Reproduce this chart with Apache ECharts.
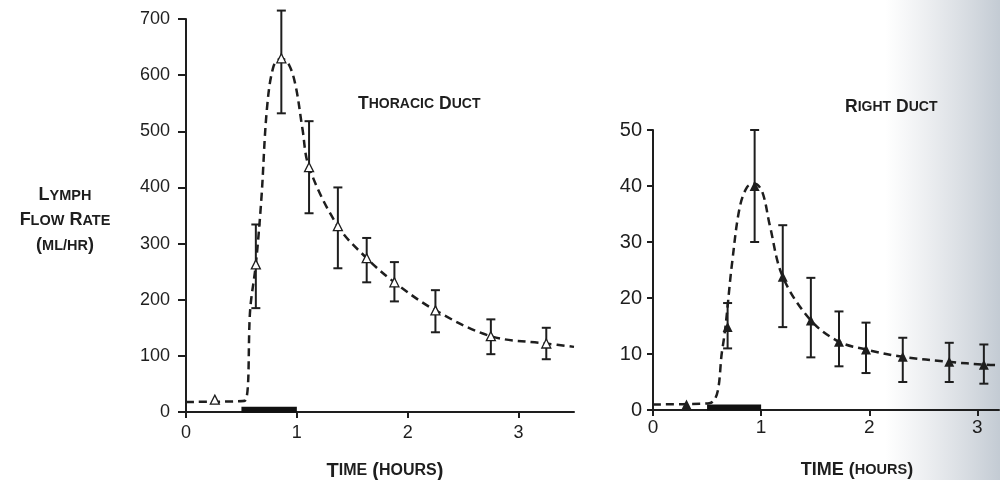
<!DOCTYPE html>
<html>
<head>
<meta charset="utf-8">
<script src="https://cdn.jsdelivr.net/npm/echarts@6/dist/echarts.min.js"></script>
<style>
  html, body { margin: 0; padding: 0; background: #fff; }
  #chart { width: 1000px; height: 480px; }
</style>
</head>
<body>
<div id="chart"></div>
<script>
// thoracic duct (left panel), time in hours, flow in ml/hr
var thoracicT  = [0.26, 0.63, 0.86, 1.11, 1.37, 1.63, 1.88, 2.25, 2.75, 3.25];
var thoracicV  = [22, 263, 630, 436, 331, 274, 231, 181, 135, 122];
var thoracicHi = [null, 334, 715, 518, 400, 310, 267, 217, 165, 150];
var thoracicLo = [null, 185, 532, 354, 256, 231, 197, 142, 103, 94];
// dashed curve
var thoracicCurveT = [0, 0.53, 0.58, 0.63, 0.68, 0.73, 0.79, 0.86, 0.93, 0.99, 1.05, 1.11, 1.37, 1.63, 1.88, 2.25, 2.75, 3.25, 3.5];
var thoracicCurveV = [18, 20, 185, 263, 380, 540, 616, 630, 618, 580, 505, 436, 331, 274, 231, 181, 135, 122, 116];

// right duct (right panel)
var rightT  = [0.31, 0.69, 0.94, 1.20, 1.46, 1.72, 1.97, 2.31, 2.74, 3.06];
var rightV  = [1, 14.8, 40, 23.8, 16, 12.2, 10.8, 9.5, 8.6, 8.1];
var rightHi = [null, 19.1, 50, 33, 23.6, 17.6, 15.6, 12.9, 12, 11.7];
var rightLo = [null, 11, 30, 14.8, 9.4, 7.8, 6.6, 5, 5, 4.7];
var rightCurveT = [0, 0.52, 0.64, 0.73, 0.80, 0.87, 0.94, 1.01, 1.08, 1.20, 1.46, 1.72, 1.97, 2.31, 2.74, 3.06, 3.19];
var rightCurveV = [1, 1.2, 10.7, 26, 36, 39.8, 40.4, 39, 33, 23.8, 16, 12.2, 10.8, 9.5, 8.6, 8.1, 8];

// infusion period (black bar on the time axis)
var infusion = [0.5, 1.0];

var xTicks = [0, 1, 2, 3];
var leftYTicks = [0, 100, 200, 300, 400, 500, 600, 700];
var rightYTicks = [0, 10, 20, 30, 40, 50];

var ink = '#1e1e1e';
var font = '"Liberation Sans", Arial, sans-serif';

function pairs(xs, ys) {
  return xs.map(function (x, i) { return [x, ys[i]]; });
}
function errData(xs, lo, hi) {
  var out = [];
  xs.forEach(function (x, i) { if (hi[i] != null) out.push([x, lo[i], hi[i]]); });
  return out;
}
function renderErr(params, api) {
  var x = api.value(0);
  var lo = api.coord([x, api.value(1)]);
  var hi = api.coord([x, api.value(2)]);
  var w = 4.5;
  var st = { stroke: ink, lineWidth: 2 };
  return {
    type: 'group',
    children: [
      { type: 'line', shape: { x1: lo[0], y1: lo[1], x2: hi[0], y2: hi[1] }, style: st },
      { type: 'line', shape: { x1: hi[0] - w, y1: hi[1], x2: hi[0] + w, y2: hi[1] }, style: st },
      { type: 'line', shape: { x1: lo[0] - w, y1: lo[1], x2: lo[0] + w, y2: lo[1] }, style: st }
    ]
  };
}

function xAxis(idx, max, size, margin) {
  return {
    type: 'value', gridIndex: idx, min: 0, max: max, interval: 1,
    axisLine: { lineStyle: { color: ink, width: 2 } },
    axisTick: { show: true, length: 6, lineStyle: { color: ink, width: 2 }, customValues: xTicks },
    axisLabel: { color: ink, fontSize: size, fontFamily: font, margin: margin, customValues: xTicks },
    splitLine: { show: false }
  };
}
function yAxis(idx, max, interval, ticks, size, margin, tickLen) {
  return {
    type: 'value', gridIndex: idx, min: 0, max: max, interval: interval,
    axisLine: { show: true, lineStyle: { color: ink, width: 2 } },
    axisTick: { show: true, length: tickLen, lineStyle: { color: ink, width: 2 }, customValues: ticks },
    axisLabel: { color: ink, fontSize: size, fontFamily: font, margin: margin, customValues: ticks },
    splitLine: { show: false }
  };
}

var sc = {
  big: { fontSize: 18, fontFamily: font, color: ink },
  sm: { fontSize: 14.5, fontFamily: font, color: ink },
  tbig: { fontSize: 20, fontFamily: font, color: ink },
  tsm: { fontSize: 16, fontFamily: font, color: ink },
  rbig: { fontSize: 18, fontFamily: font, color: ink },
  rsm: { fontSize: 14.5, fontFamily: font, color: ink },
  bbig: { fontSize: 17.5, fontWeight: 'bold', fontFamily: font, color: ink },
  bsm: { fontSize: 14, fontWeight: 'bold', fontFamily: font, color: ink }
};

var chart = echarts.init(document.getElementById('chart'));
chart.setOption({
  backgroundColor: '#fff',
  animation: false,
  graphic: [{
    type: 'rect', z: -10, silent: true,
    shape: { x: 885, y: 0, width: 115, height: 480 },
    style: {
      fill: new echarts.graphic.LinearGradient(0, 0, 1, 0, [
        { offset: 0, color: 'rgba(200,205,212,0)' },
        { offset: 1, color: 'rgba(185,194,204,0.85)' }
      ])
    }
  }],
  title: [
    { text: '{bbig|T}{bsm|HORACIC} {bbig|D}{bsm|UCT}', left: 353, top: 90, textStyle: { rich: sc } },
    { text: '{bbig|R}{bsm|IGHT} {bbig|D}{bsm|UCT}', left: 840, top: 93, textStyle: { rich: sc } },
    { text: '{big|L}{sm|YMPH}\n{big|F}{sm|LOW} {big|R}{sm|ATE}\n{big|(}{sm|ML/HR}{big|)}', left: 60, top: 178,
      textAlign: 'center', textStyle: { rich: sc, lineHeight: 25 } },
    { text: '{tbig|T}{tsm|IME} {tbig|(}{tsm|HOURS}{tbig|)}', left: 380, top: 456, textAlign: 'center', textStyle: { rich: sc } },
    { text: '{rbig|TIME} {rbig|(}{rsm|HOURS}{rbig|)}', left: 852, top: 456, textAlign: 'center', textStyle: { rich: sc } }
  ],
  grid: [
    { left: 186, top: 19, width: 388, height: 393 },
    { left: 653, top: 130, width: 346, height: 280 }
  ],
  xAxis: [xAxis(0, 3.5, 18, 12), xAxis(1, 3.2, 19, 8)],
  yAxis: [yAxis(0, 700, 100, leftYTicks, 18, 16, 8), yAxis(1, 50, 10, rightYTicks, 20, 11, 6)],
  series: [
    {
      type: 'line', xAxisIndex: 0, yAxisIndex: 0, data: pairs(thoracicCurveT, thoracicCurveV),
      smooth: 0.35, showSymbol: false, silent: true, z: 2,
      lineStyle: { color: ink, width: 2.5, type: [8, 5] }
    },
    {
      type: 'custom', xAxisIndex: 0, yAxisIndex: 0, data: errData(thoracicT, thoracicLo, thoracicHi),
      renderItem: renderErr, z: 3
    },
    {
      type: 'scatter', xAxisIndex: 0, yAxisIndex: 0, data: pairs(thoracicT, thoracicV),
      symbol: 'triangle', symbolSize: 9, z: 4,
      itemStyle: { color: '#fff', borderColor: ink, borderWidth: 1.3, opacity: 1 }
    },
    {
      type: 'line', xAxisIndex: 0, yAxisIndex: 0,
      data: [[infusion[0], 4], [infusion[1], 4]],
      showSymbol: false, silent: true, z: 3,
      lineStyle: { color: '#111', width: 6, cap: 'butt' }
    },
    {
      type: 'line', xAxisIndex: 1, yAxisIndex: 1, data: pairs(rightCurveT, rightCurveV),
      smooth: 0.35, showSymbol: false, silent: true, z: 2,
      lineStyle: { color: ink, width: 2.5, type: [8, 5] }
    },
    {
      type: 'custom', xAxisIndex: 1, yAxisIndex: 1, data: errData(rightT, rightLo, rightHi),
      renderItem: renderErr, z: 3
    },
    {
      type: 'scatter', xAxisIndex: 1, yAxisIndex: 1, data: pairs(rightT, rightV),
      symbol: 'triangle', symbolSize: 10, z: 4,
      itemStyle: { color: ink, opacity: 1 }
    },
    {
      type: 'line', xAxisIndex: 1, yAxisIndex: 1,
      data: [[infusion[0], 0.45], [infusion[1], 0.45]],
      showSymbol: false, silent: true, z: 3,
      lineStyle: { color: '#111', width: 6, cap: 'butt' }
    }
  ]
});
</script>
</body>
</html>
